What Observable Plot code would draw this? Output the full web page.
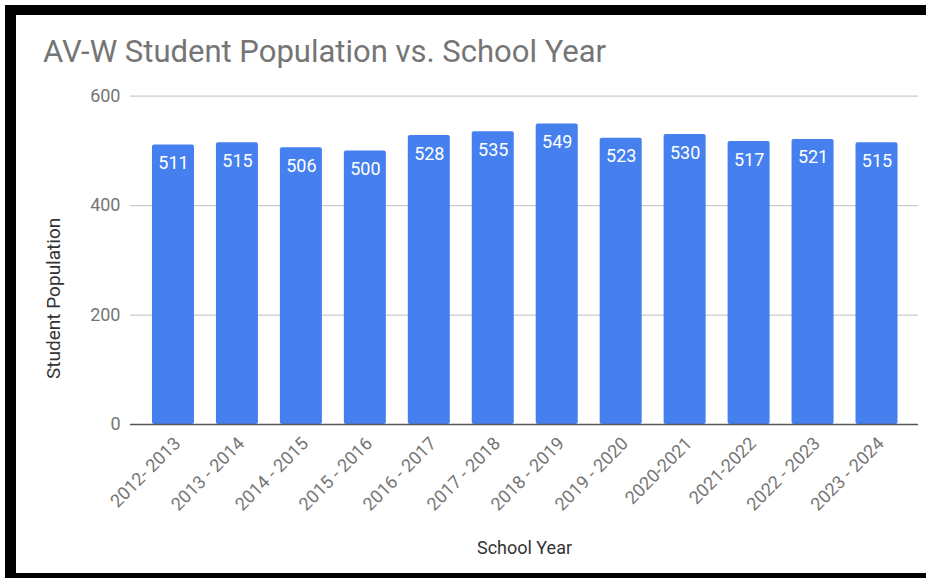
<!DOCTYPE html>
<html>
<head>
<meta charset="utf-8">
<script src="https://cdn.jsdelivr.net/npm/d3@7"></script>
<script src="https://cdn.jsdelivr.net/npm/@observablehq/plot@0.6"></script>
<style>
  html, body { margin: 0; padding: 0; background: #fff; }
  #frame { position: relative; width: 926px; height: 578px; overflow: hidden; font-family: Roboto, sans-serif; background: #fff; }
  #chart { position: absolute; left: 0; top: 0; }
  #title { position: absolute; left: 43px; top: 36px; font-size: 31px; line-height: 31px; color: #757575; white-space: nowrap; font-family: Roboto, sans-serif; }
  .edge { position: absolute; background: #000; }
</style>
</head>
<body>
<div id="frame">
  <div id="chart"></div>
  <div id="title">AV-W Student Population vs. School Year</div>
  <div class="edge" style="left:5px;top:5px;width:11px;height:573px"></div>
  <div class="edge" style="left:5px;top:5px;width:921px;height:10px"></div>
  <div class="edge" style="left:5px;top:573px;width:921px;height:5px"></div>
</div>
<script>
const schoolYears = ["2012- 2013", "2013 - 2014", "2014 - 2015", "2015 - 2016", "2016 - 2017", "2017 - 2018",
                     "2018 - 2019", "2019 - 2020", "2020-2021", "2021-2022", "2022 - 2023", "2023 - 2024"];
const population = [511, 515, 506, 500, 528, 535, 549, 523, 530, 517, 521, 515];
const yTicks = [0, 200, 400, 600];
const xTitle = "School Year";
const yTitle = "Student Population";

const data = schoolYears.map((year, i) => ({year, value: population[i]}));

const chart = Plot.plot({
  width: 926,
  height: 578,
  marginTop: 95.7,
  marginBottom: 154,
  marginLeft: 130,
  marginRight: 8,
  style: {fontFamily: "Roboto, sans-serif", background: "transparent", overflow: "visible"},
  x: {domain: schoolYears, paddingInner: 0.343, paddingOuter: 0.1715, insetLeft: 11, insetRight: 9.5, round: false, label: null},
  y: {domain: [0, 600], ticks: yTicks, label: null},
  marks: [
    Plot.ruleY(yTicks.slice(1), {stroke: "#cccccc", strokeWidth: 1.3}),
    Plot.barY(data, {x: "year", y: "value", fill: "#4580ee", rx: 2}),
    Plot.ruleY([0], {stroke: "#555555", strokeWidth: 1.6}),
    Plot.text(data, {x: "year", y: "value", text: d => String(d.value), dy: 24, lineAnchor: "bottom",
                     fill: "#ffffff", fontSize: 18}),
    Plot.axisY({ticks: yTicks, tickSize: 0, tickPadding: 10, fontSize: 18, color: "#757575", label: null}),
    Plot.axisX({tickSize: 0, tickRotate: -45, tickPadding: 16, dx: 4, fontSize: 18, color: "#757575", label: null}),
    Plot.text([yTitle], {frameAnchor: "left", text: d => d, rotate: -90, dx: -71, dy: 38,
                         textAnchor: "middle", lineAnchor: "bottom", fill: "#333333", fontSize: 19}),
    Plot.text([xTitle], {frameAnchor: "bottom", text: d => d, dy: 129, textAnchor: "middle", lineAnchor: "bottom",
                         fill: "#333333", fontSize: 18})
  ]
});
document.getElementById("chart").appendChild(chart);
</script>
</body>
</html>
